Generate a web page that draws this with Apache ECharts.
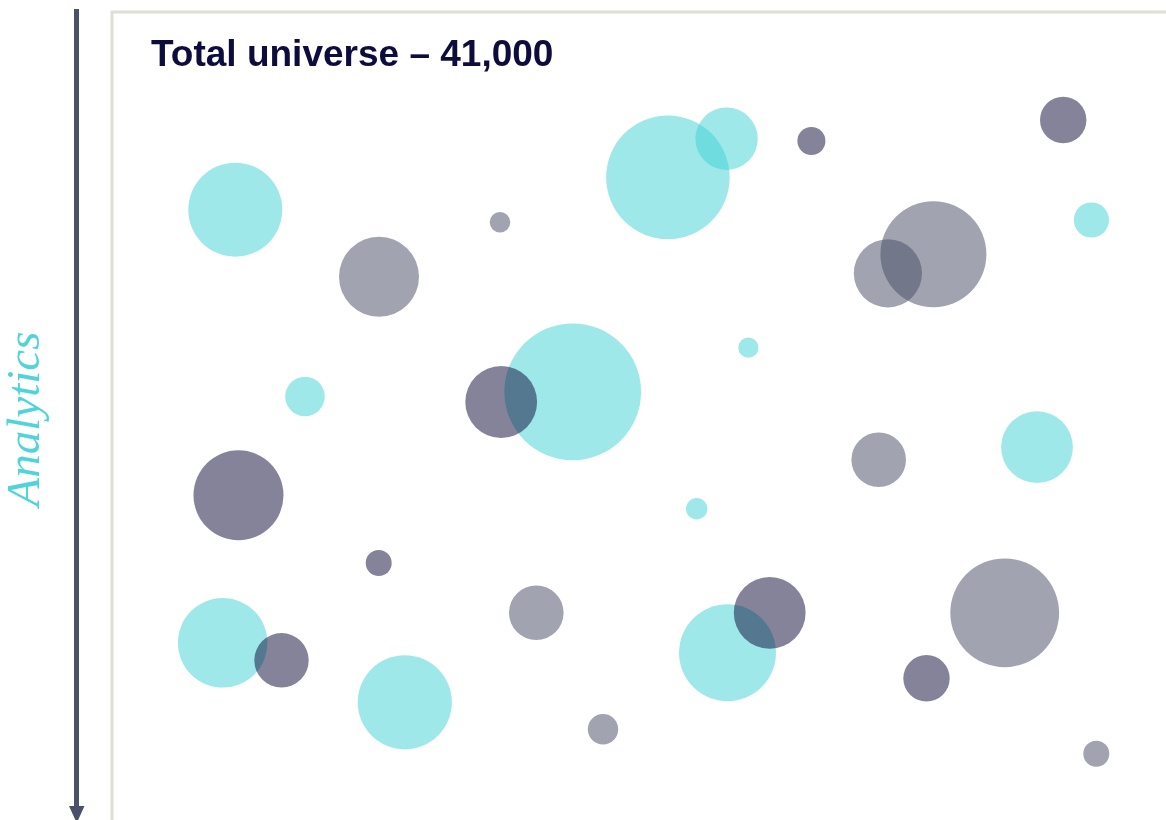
<!DOCTYPE html>
<html>
<head>
<meta charset="utf-8">
<script src="https://cdn.jsdelivr.net/npm/echarts@6/dist/echarts.min.js"></script>
<style>
  html, body { margin: 0; padding: 0; background: #ffffff; }
  #chart { width: 1166px; height: 820px; }
</style>
</head>
<body>
<div id="chart"></div>
<script>
// Title and axis label
var titleText = 'Total universe \u2013 41,000';
var axisName = 'Analytics';

// Bubbles: [x, y, size] in chart units (size = bubble diameter in x-units)
var cyanBubbles = [
  [12.33, 19.77, 9.40],
  [55.59, 16.53, 12.36],
  [61.46, 12.67, 6.24],
  [97.94, 20.80, 3.52],
  [19.30, 38.45, 3.96],
  [46.07, 37.98, 13.68],
  [63.64, 33.57, 2.02],
  [92.50, 43.52, 7.18],
  [58.47, 49.67, 2.14],
  [11.07, 63.08, 8.96],
  [29.28, 69.03, 9.42],
  [61.55, 64.08, 9.70]
];
var grayBubbles = [
  [26.70, 26.47, 8.00],
  [38.80, 21.03, 2.06],
  [82.14, 24.23, 10.60],
  [77.59, 26.13, 6.82],
  [76.67, 44.77, 5.46],
  [42.43, 60.07, 5.46],
  [49.10, 71.72, 3.04],
  [89.27, 60.08, 10.88],
  [98.43, 74.17, 2.60]
];
var darkBubbles = [
  [69.94, 12.90, 2.80],
  [95.12, 10.80, 4.64],
  [38.92, 39.00, 7.18],
  [12.65, 48.32, 9.00],
  [26.67, 55.10, 2.60],
  [16.95, 64.83, 5.44],
  [65.77, 60.08, 7.18],
  [81.45, 66.63, 4.64]
];

var X_MAX = 110, Y_MAX = 90;
var UNIT_PX = 10;

var chart = echarts.init(document.getElementById('chart'), null, { renderer: 'canvas' });

function bubbleSeries(name, data, color) {
  return {
    name: name,
    type: 'scatter',
    data: data,
    symbol: 'circle',
    symbolSize: function (v) { return v[2] * UNIT_PX; },
    itemStyle: { color: color, opacity: 0.5, borderWidth: 0 },
    emphasis: { disabled: true },
    silent: true
  };
}

chart.setOption({
  animation: false,
  backgroundColor: '#ffffff',
  title: {
    text: titleText,
    left: 151,
    top: 37,
    padding: 0,
    textStyle: {
      fontFamily: '"Liberation Sans", Arial, sans-serif',
      fontWeight: 'bold',
      fontSize: 37,
      color: '#0d0c3c',
      lineHeight: 37
    }
  },
  grid: {
    left: 112,
    top: 12,
    width: X_MAX * UNIT_PX,
    height: Y_MAX * UNIT_PX,
    outerBoundsMode: 'none',
    containLabel: false,
    show: true,
    borderColor: '#dfdfd6',
    borderWidth: 3,
    backgroundColor: 'transparent'
  },
  xAxis: {
    type: 'value', min: 0, max: X_MAX,
    show: false
  },
  yAxis: {
    type: 'value', min: 0, max: Y_MAX, inverse: true,
    show: false
  },
  series: [
    bubbleSeries('cyan', cyanBubbles, '#3fd1d5'),
    bubbleSeries('gray', grayBubbles, '#434961'),
    bubbleSeries('dark', darkBubbles, '#090733')
  ],
  graphic: [
    {
      type: 'line',
      shape: { x1: 76.5, y1: 9, x2: 76.5, y2: 808 },
      style: { stroke: '#4a4f6a', lineWidth: 5 },
      silent: true
    },
    {
      type: 'polygon',
      shape: { points: [[69, 806], [84.5, 806], [76.75, 823]] },
      style: { fill: '#4a4f6a' },
      silent: true
    },
    {
      type: 'text',
      x: 27,
      y: 419,
      rotation: Math.PI / 2,
      style: {
        text: axisName,
        fontFamily: '"Liberation Serif", "Times New Roman", serif',
        fontStyle: 'italic',
        fontSize: 47,
        fill: '#4fd4da',
        align: 'center',
        verticalAlign: 'middle'
      },
      silent: true
    }
  ]
});
</script>
</body>
</html>
